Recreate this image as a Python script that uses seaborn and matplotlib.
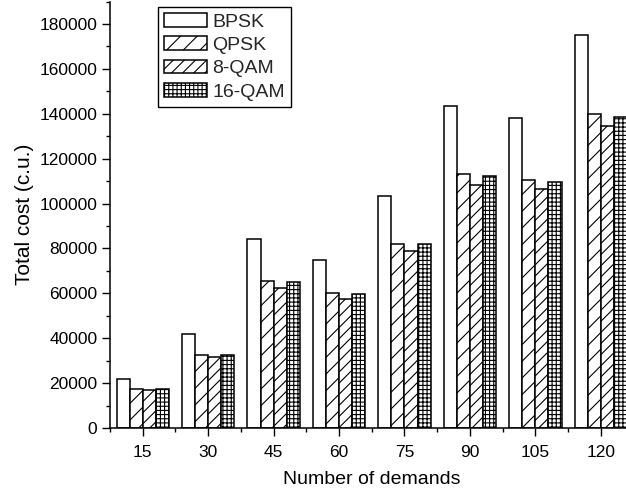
import matplotlib
matplotlib.use("Agg")
import matplotlib.pyplot as plt
import seaborn as sns
import pandas as pd
from matplotlib.ticker import MultipleLocator, FixedLocator

demands = ["15", "30", "45", "60", "75", "90", "105", "120"]
schemes = ["BPSK", "QPSK", "8-QAM", "16-QAM"]
bpsk = [21800, 41700, 84000, 74700, 103500, 143500, 138000, 175000]
qpsk = [17500, 32500, 65500, 60000, 82000, 113000, 110500, 139800]
qam8 = [16800, 31600, 62500, 57500, 79000, 108500, 106500, 134400]
qam16 = [17300, 32500, 65000, 59500, 82000, 112500, 109500, 138800]

rows = []
for name, vals in zip(schemes, [bpsk, qpsk, qam8, qam16]):
    for d, v in zip(demands, vals):
        rows.append({"Number of demands": d, "Scheme": name, "Total cost": v})
df = pd.DataFrame(rows)

sns.set_theme(style="ticks")
plt.rcParams["font.family"] = ["Liberation Sans", "DejaVu Sans"]
plt.rcParams["hatch.linewidth"] = 0.8
plt.rcParams["hatch.color"] = "black"

fig = plt.figure(figsize=(6.26, 4.91), dpi=100)
ax = fig.add_axes([110 / 626, 63 / 491, 523.5 / 626, 426.4 / 491])

sns.barplot(data=df, x="Number of demands", y="Total cost", hue="Scheme",
            order=demands, hue_order=schemes,
            palette=["white"] * 4, edgecolor="black", linewidth=1.1,
            width=0.8, ax=ax, legend=True, saturation=1)

hatches = ["", "//", "///", "++++"]
for cont, h in zip(ax.containers, hatches):
    for bar in cont:
        bar.set_hatch(h)
        bar.set_facecolor("white")
        bar.set_edgecolor("black")

ax.set_xlim(-0.5, 7.5)
ax.set_ylim(0, 190000)
ax.yaxis.set_major_locator(FixedLocator(list(range(0, 180001, 20000))))
ax.yaxis.set_minor_locator(MultipleLocator(10000))
ax.xaxis.set_minor_locator(FixedLocator([i - 0.5 for i in range(9)]))

ax.tick_params(axis="both", which="major", direction="out", length=5.5, width=1,
               color="black", labelsize=12.5, labelcolor="black")
ax.tick_params(axis="x", which="major", pad=7)
ax.tick_params(axis="both", which="minor", direction="out", length=3, width=1,
               color="black")
ax.set_xlabel("Number of demands", fontsize=14, color="black", labelpad=8)
ax.set_ylabel("Total cost (c.u.)", fontsize=15, color="black", labelpad=4)

for s in ["top", "right"]:
    ax.spines[s].set_visible(False)
for s in ["left", "bottom"]:
    ax.spines[s].set_color("black")
    ax.spines[s].set_linewidth(1.1)

handles, labels = ax.get_legend_handles_labels()
for hnd, h in zip(handles, hatches):
    hnd.set_hatch(h)
    hnd.set_facecolor("white")
    hnd.set_edgecolor("black")
leg = ax.legend(handles, labels, loc="upper left", bbox_to_anchor=(0.092, 0.987),
                fontsize=14, frameon=True, fancybox=False, framealpha=1,
                edgecolor="black", borderaxespad=0, borderpad=0.3,
                labelspacing=0.3, handlelength=2.2, handleheight=0.7,
                handletextpad=0.3)
leg.get_frame().set_linewidth(1.0)

fig.savefig("out.png", dpi=100)
